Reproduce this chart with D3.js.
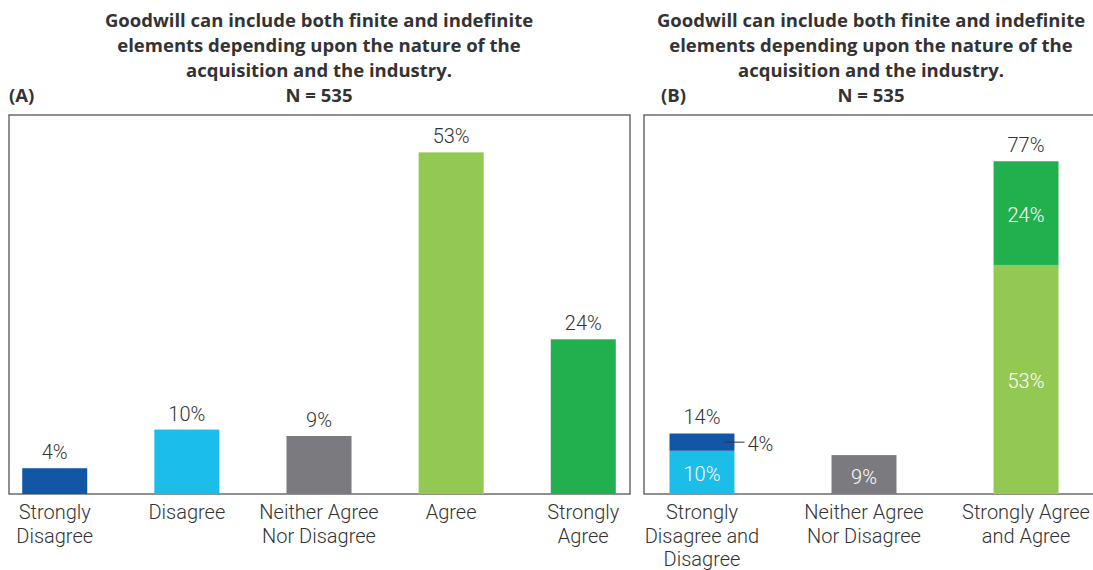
<!DOCTYPE html>
<html lang="en">
<head>
<meta charset="UTF-8">
<script src="https://d3js.org/d3.v7.min.js"></script>
<title>Goodwill</title>
<style>
  body { margin: 0; background: #fff; }
  svg { display: block; font-family: Roboto, "Noto Sans", sans-serif; }
  .ttl { font-family: "Open Sans", Roboto, sans-serif; }
</style>
</head>
<body>
<div id="chart"></div>
<script>
const width = 1093;
const height = 570;

// Data
const titleLines = ["Goodwill can include both finite and indefinite",
    "elements depending upon the nature of the",
    "acquisition and the industry."];
const nLabel = "N = 535";

const catsA = ["Strongly Disagree", "Disagree", "Neither Agree Nor Disagree", "Agree", "Strongly Agree"];
const labelsA = [["Strongly", "Disagree"], ["Disagree"], ["Neither Agree", "Nor Disagree"], ["Agree"], ["Strongly", "Agree"]];
const valuesA = [4, 10, 9, 53, 24];
const colorsA = ["#1257a5", "#1bbde9", "#7a7a7f", "#93c853", "#22b04f"];

const catsB = ["Disagree total", "Neutral", "Agree total"];
const labelsB = [["Strongly", "Disagree and", "Disagree"], ["Neither Agree", "Nor Disagree"], ["Strongly Agree", "and Agree"]];
// stacked pieces: bottom then top
const lowerB = [10, 9, 53];
const upperB = [4, 0, 24];
const lowerColorsB = ["#1bbde9", "#7a7a7f", "#93c853"];
const upperColorsB = ["#1257a5", null, "#22b04f"];

const svg = d3.select("#chart").append("svg")
    .attr("width", width)
    .attr("height", height);

const plotTop = 115, base = 494;
const ink = "#333";
const frameColor = "#555";
const fs = 20;

function header(cx, x0, tag) {
    titleLines.forEach((t, i) => {
        svg.append("text")
            .attr("class", "ttl")
            .attr("x", cx).attr("y", 27 + i * 25)
            .attr("text-anchor", "middle")
            .attr("font-size", 18.5).attr("font-weight", "bold")
            .attr("fill", ink)
            .text(t);
    });
    svg.append("text")
        .attr("class", "ttl")
        .attr("x", cx).attr("y", 102)
        .attr("text-anchor", "middle")
        .attr("font-size", 18.5).attr("font-weight", "bold")
        .attr("fill", ink)
        .text(nLabel);
    svg.append("text")
        .attr("class", "ttl")
        .attr("x", x0).attr("y", 102)
        .attr("font-size", 18.5).attr("font-weight", "bold")
        .attr("fill", ink)
        .text(tag);
}

function frame(x0, x1) {
    svg.append("rect")
        .attr("x", x0).attr("y", plotTop)
        .attr("width", x1 - x0).attr("height", base - plotTop)
        .attr("fill", "none")
        .attr("stroke", frameColor)
        .attr("stroke-width", 1.3);
}

function catLabels(x, cats, labels) {
    cats.forEach((c, i) => {
        labels[i].forEach((l, j) => {
            svg.append("text")
                .attr("x", x(c) + x.bandwidth() / 2)
                .attr("y", 519 + j * 23.5)
                .attr("text-anchor", "middle")
                .attr("font-size", fs)
                .attr("font-weight", 300)
                .attr("fill", ink)
                .text(l);
        });
    });
}

// Panel A
header(319, 9, "(A)");
const xA = d3.scaleBand().domain(catsA).range([9, 629]).paddingInner(0.508).paddingOuter(0.1);
const yA = d3.scaleLinear().domain([0, 58.8]).range([base, plotTop]);
frame(9, 630);

svg.append("g").selectAll("rect")
    .data(catsA)
    .join("rect")
    .attr("x", d => xA(d))
    .attr("y", (d, i) => yA(valuesA[i]))
    .attr("width", xA.bandwidth())
    .attr("height", (d, i) => base - yA(valuesA[i]))
    .attr("fill", (d, i) => colorsA[i]);

svg.append("g").selectAll("text")
    .data(catsA)
    .join("text")
    .attr("x", d => xA(d) + xA.bandwidth() / 2)
    .attr("y", (d, i) => yA(valuesA[i]) - 9)
    .attr("text-anchor", "middle")
    .attr("font-size", fs).attr("font-weight", 300)
    .attr("fill", ink)
    .text((d, i) => valuesA[i] + "%");

catLabels(xA, catsA, labelsA);

// Panel B
header(871, 661, "(B)");
const xB = d3.scaleBand().domain(catsB).range([646, 1082]).paddingInner(0.599).paddingOuter(0.145);
const yB = d3.scaleLinear().domain([0, 87.7]).range([base, plotTop]);
frame(644, 1100);

catsB.forEach((c, i) => {
    const bx = xB(c), bw = xB.bandwidth(), cx = bx + bw / 2;
    const lo = lowerB[i], up = upperB[i], total = lo + up;
    svg.append("rect")
        .attr("x", bx).attr("y", yB(lo))
        .attr("width", bw).attr("height", base - yB(lo))
        .attr("fill", lowerColorsB[i]);
    svg.append("text")
        .attr("x", cx).attr("y", (yB(lo) + base) / 2 + 9)
        .attr("text-anchor", "middle")
        .attr("font-size", fs).attr("font-weight", 300)
        .attr("fill", "#fff")
        .text(lo + "%");
    if (up > 0) {
        svg.append("rect")
            .attr("x", bx).attr("y", yB(total))
            .attr("width", bw).attr("height", yB(lo) - yB(total))
            .attr("fill", upperColorsB[i]);
        svg.append("text")
            .attr("x", cx).attr("y", yB(total) - 9)
            .attr("text-anchor", "middle")
            .attr("font-size", fs).attr("font-weight", 300)
            .attr("fill", ink)
            .text(total + "%");
        const midUp = (yB(total) + yB(lo)) / 2;
        if (yB(lo) - yB(total) > 40) {
            svg.append("text")
                .attr("x", cx).attr("y", midUp + 9)
                .attr("text-anchor", "middle")
                .attr("font-size", fs).attr("font-weight", 300)
                .attr("fill", "#fff")
                .text(up + "%");
        } else {
            // small segment: leader line and label outside
            svg.append("line")
                .attr("x1", bx + bw - 10).attr("x2", bx + bw + 10)
                .attr("y1", midUp).attr("y2", midUp)
                .attr("stroke", ink).attr("stroke-width", 1);
            svg.append("text")
                .attr("x", bx + bw + 13).attr("y", midUp + 9)
                .attr("font-size", fs).attr("font-weight", 300)
                .attr("fill", ink)
                .text(up + "%");
        }
    }
});

catLabels(xB, catsB, labelsB);
</script>
</body>
</html>
